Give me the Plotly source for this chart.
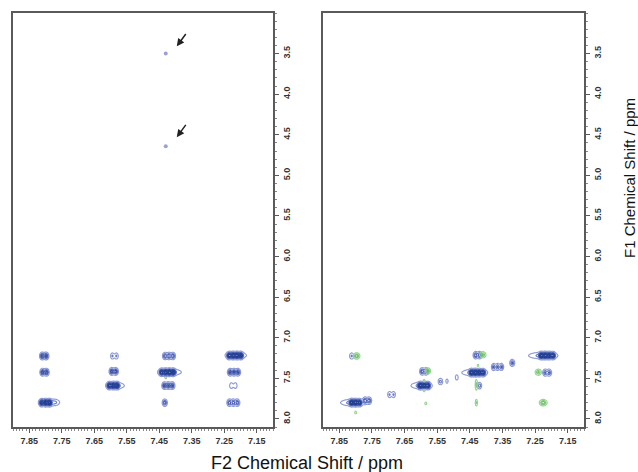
import numpy as np
import plotly.graph_objects as go

# ---------------- data (peak lists) ----------------
# Left panel, positive (blue) peaks: F2 shift, F1 shift, amplitude, multiplet lines, widths
L_X   = [7.804, 7.803, 7.800, 7.790, 7.770, 7.588, 7.590, 7.592, 7.585, 7.420, 7.425, 7.418,
         7.422, 7.433, 7.217, 7.214, 7.220, 7.222, 7.222]
L_Y   = [7.225, 7.425, 7.800, 7.800, 7.795, 7.225, 7.415, 7.590, 7.590, 7.225, 7.425, 7.425,
         7.590, 7.800, 7.220, 7.218, 7.425, 7.590, 7.800]
L_AMP = [0.75, 0.75, 1.00, 0.35, 0.20, 0.30, 0.75, 1.00, 0.35, 0.60, 1.00, 0.40,
         0.70, 0.60, 1.00, 0.40, 0.70, 0.25, 0.60]
L_N   = [2, 2, 3, 1, 1, 2, 2, 3, 1, 3, 4, 1, 3, 1, 4, 1, 3, 2, 3]
L_SX  = [0.004, 0.004, 0.004, 0.015, 0.008, 0.0035, 0.004, 0.004, 0.016, 0.004, 0.004, 0.020,
         0.004, 0.004, 0.004, 0.018, 0.004, 0.0035, 0.004]
L_SY  = [0.023] * 19

# Left panel, negative (green) peaks
LG_X   = [7.430]
LG_Y   = [7.490]
LG_AMP = [0.20]
LG_N   = [1]
LG_SX  = [0.002]
LG_SY  = [0.012]

# Left panel, isolated weak peaks marked by arrows
DOT_X = [7.430, 7.430]
DOT_Y = [3.50, 4.64]
ARROW_TAIL_X = [7.365, 7.365]
ARROW_TAIL_Y = [3.24, 4.36]
ARROW_HEAD_X = [7.396, 7.396]
ARROW_HEAD_Y = [3.41, 4.53]

# Right panel, positive (blue) peaks
R_X   = [7.812, 7.590, 7.590, 7.598, 7.540, 7.520, 7.490, 7.690, 7.800, 7.810, 7.765,
         7.426, 7.427, 7.435, 7.365, 7.320, 7.213, 7.225, 7.213, 7.420]
R_Y   = [7.225, 7.415, 7.590, 7.590, 7.540, 7.535, 7.490, 7.700, 7.800, 7.800, 7.775,
         7.215, 7.430, 7.430, 7.360, 7.310, 7.220, 7.220, 7.430, 7.590]
R_AMP = [0.30, 0.60, 1.00, 0.40, 0.35, 0.15, 0.20, 0.30, 1.00, 0.40, 0.60,
         0.60, 1.00, 0.40, 0.50, 0.50, 1.00, 0.40, 0.50, 0.40]
R_N   = [1, 2, 3, 1, 1, 1, 1, 2, 3, 1, 2, 2, 4, 1, 3, 1, 4, 1, 2, 1]
R_SX  = [0.004, 0.004, 0.004, 0.018, 0.004, 0.003, 0.003, 0.0035, 0.004, 0.020, 0.004,
         0.004, 0.004, 0.022, 0.0035, 0.004, 0.004, 0.025, 0.004, 0.0035]
R_SY  = [0.023] * 20

# Right panel, negative (green) peaks
RG_X   = [7.797, 7.578, 7.410, 7.240, 7.225, 7.430, 7.430, 7.800, 7.585, 7.590, 7.590, 7.425]
RG_Y   = [7.225, 7.410, 7.210, 7.425, 7.800, 7.580, 7.800, 7.920, 7.810, 7.530, 7.650, 7.340]
RG_AMP = [0.60, 0.50, 0.50, 0.50, 0.60, 0.35, 0.30, 0.20, 0.20, 0.20, 0.20, 0.15]
RG_N   = [1, 1, 1, 1, 1, 1, 1, 1, 1, 1, 1, 1]
RG_SX  = [0.005, 0.004, 0.005, 0.005, 0.006, 0.002, 0.002, 0.002, 0.002, 0.002, 0.002, 0.002]
RG_SY  = [0.020, 0.020, 0.020, 0.020, 0.020, 0.040, 0.025, 0.012, 0.012, 0.012, 0.012, 0.012]

X_TICKS = [7.85, 7.75, 7.65, 7.55, 7.45, 7.35, 7.25, 7.15]
Y_TICKS = [3.5, 4.0, 4.5, 5.0, 5.5, 6.0, 6.5, 7.0, 7.5, 8.0]
J_SPLIT = 0.012

# ---------------- build spectra surfaces from peak lists ----------------
gx = np.arange(7.10, 7.90, 0.0015)
gy = np.arange(6.98, 8.05, 0.003)
GX, GY = np.meshgrid(gx, gy)


def surface(xs, ys, amps, ns, sxs, sys_):
    z = np.zeros_like(GX)
    for x0, y0, a, n, sx, sy in zip(xs, ys, amps, ns, sxs, sys_):
        for i in range(n):
            xc = x0 + (i - (n - 1) / 2) * J_SPLIT
            z += a * np.exp(-0.5 * ((GX - xc) / sx) ** 2 - 0.5 * ((GY - y0) / sy) ** 2)
    return np.round(z, 3)


BLUE_SCALE = [[0, "#8e9ad6"], [0.45, "#4b60b4"], [1, "#233f92"]]
GREEN_SCALE = [[0, "#96d48e"], [1, "#3faa44"]]


def contour(z, xa, ya, scale):
    return go.Contour(
        x=gx, y=gy, z=z, xaxis=xa, yaxis=ya,
        contours=dict(coloring="lines", start=0.08, end=1.6, size=0.19),
        line=dict(width=1.15), colorscale=scale, zmin=0.05, zmax=1.0,
        showscale=False, hoverinfo="skip",
    )


fig = go.Figure()
fig.add_trace(contour(surface(LG_X, LG_Y, LG_AMP, LG_N, LG_SX, LG_SY), "x", "y", GREEN_SCALE))
fig.add_trace(contour(surface(L_X, L_Y, L_AMP, L_N, L_SX, L_SY), "x", "y", BLUE_SCALE))
fig.add_trace(contour(surface(R_X, R_Y, R_AMP, R_N, R_SX, R_SY), "x2", "y2", BLUE_SCALE))
fig.add_trace(contour(surface(RG_X, RG_Y, RG_AMP, RG_N, RG_SX, RG_SY), "x2", "y2", GREEN_SCALE))
fig.add_trace(go.Scatter(x=DOT_X, y=DOT_Y, mode="markers", xaxis="x", yaxis="y",
                         marker=dict(size=4, color="#9aa2d4"), hoverinfo="skip"))

for hx, hy, tx, ty in zip(ARROW_HEAD_X, ARROW_HEAD_Y, ARROW_TAIL_X, ARROW_TAIL_Y):
    fig.add_annotation(x=hx, y=hy, ax=tx, ay=ty, xref="x", yref="y", axref="x", ayref="y",
                       showarrow=True, arrowhead=2, arrowsize=1.0, arrowwidth=1.5,
                       arrowcolor="#222222", text="")

FRAME = "#5a5a5a"
TICKFONT = dict(family="Liberation Sans, Arial", size=9, color="#333333", weight="bold")


def xaxis(domain, anchor):
    return dict(domain=domain, anchor=anchor, range=[7.9, 7.1], tickvals=X_TICKS,
                ticktext=[f"{v:.2f}" for v in X_TICKS], showline=True, mirror=True,
                linecolor=FRAME, linewidth=1.5, ticks="outside", ticklen=4, tickwidth=1,
                tickcolor=FRAME, showgrid=False, zeroline=False, tickfont=TICKFONT,
                minor=dict(dtick=0.01, tick0=7.1, ticklen=2, tickcolor="#888888",
                           ticks="outside", showgrid=False))


def yaxis(domain, anchor):
    return dict(domain=domain, anchor=anchor, side="right", range=[8.1, 3.0],
                tickvals=Y_TICKS, ticktext=[f"{v:.1f}" for v in Y_TICKS], tickangle=-90,
                showline=True, mirror=True, linecolor=FRAME, linewidth=1.5,
                ticks="outside", ticklen=4, tickwidth=1, tickcolor=FRAME,
                showgrid=False, zeroline=False, tickfont=TICKFONT,
                minor=dict(dtick=0.1, tick0=3.0, ticklen=2, tickcolor="#888888",
                           ticks="outside", showgrid=False))


YD = [1 - 427 / 472, 1 - 13 / 472]
fig.update_layout(
    width=638, height=472, margin=dict(l=0, r=0, t=0, b=0),
    paper_bgcolor="white", plot_bgcolor="white", showlegend=False,
    xaxis=xaxis([13 / 638, 273 / 638], "y"),
    yaxis=yaxis(YD, "x"),
    xaxis2=xaxis([323 / 638, 584 / 638], "y2"),
    yaxis2=yaxis(YD, "x2"),
)

fig.add_annotation(x=307 / 638, y=1 - 463 / 472, xref="paper", yref="paper",
                   xanchor="center", yanchor="middle",
                   text="F2 Chemical Shift / ppm", showarrow=False,
                   font=dict(family="Liberation Sans, Arial", size=18, color="#111111"))
fig.add_annotation(x=629 / 638, y=1 - 178 / 472, xref="paper", yref="paper",
                   xanchor="center", yanchor="middle",
                   text="F1 Chemical Shift / ppm", showarrow=False, textangle=-90,
                   font=dict(family="Liberation Sans, Arial", size=15, color="#111111"))

fig.write_html(
    "out.html",
    config={"displayModeBar": False},
    post_script="document.body.style.margin='0';document.body.style.overflow='hidden';",
)
